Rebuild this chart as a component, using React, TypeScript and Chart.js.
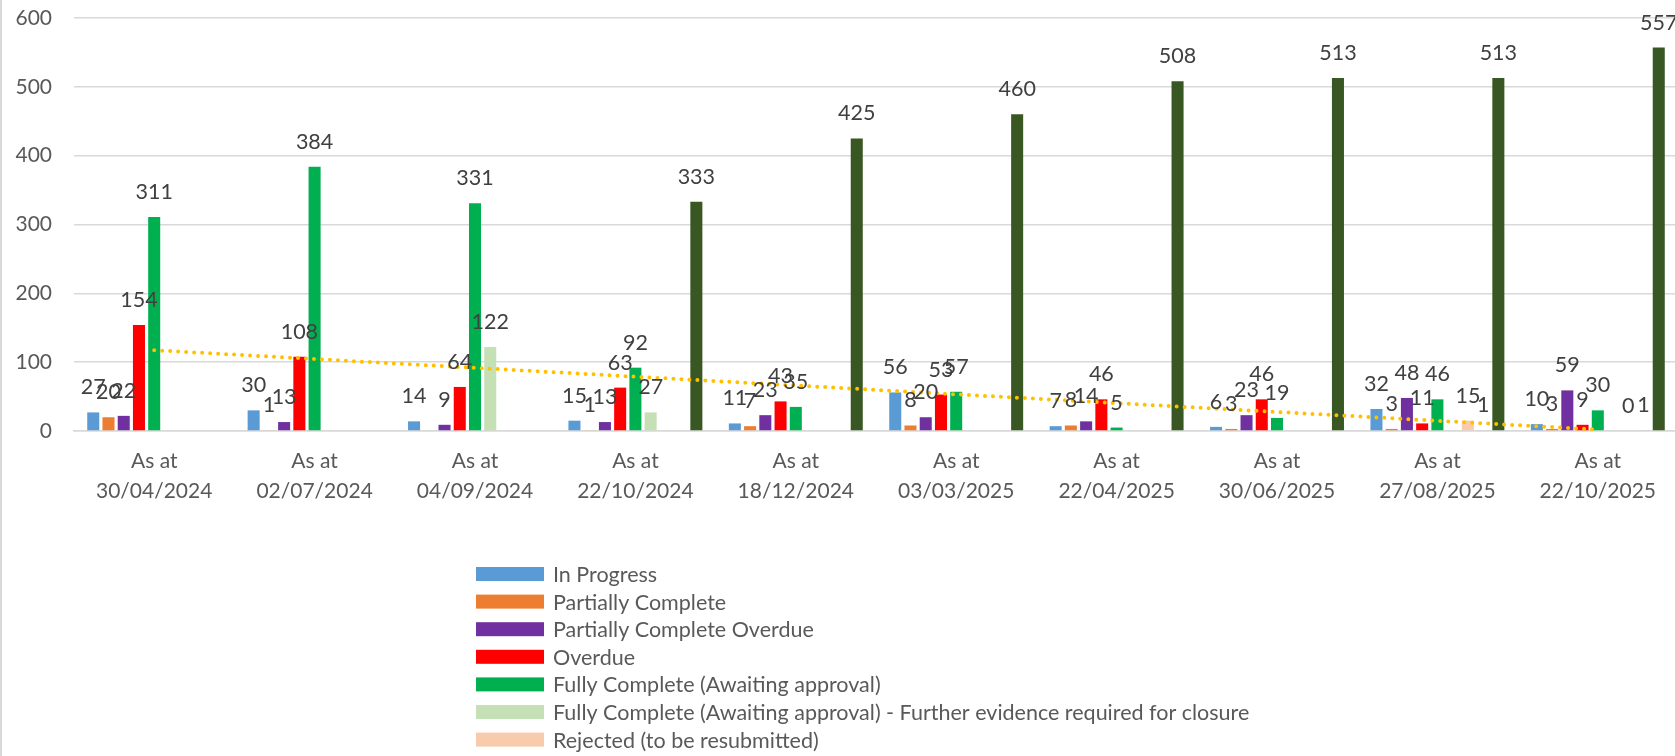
import React, { useEffect, useRef } from 'react';
import { Chart, registerables } from 'chart.js';

Chart.register(...registerables);

const categories: string[][] = [
  ['As at', '30/04/2024'],
  ['As at', '02/07/2024'],
  ['As at', '04/09/2024'],
  ['As at', '22/10/2024'],
  ['As at', '18/12/2024'],
  ['As at', '03/03/2025'],
  ['As at', '22/04/2025'],
  ['As at', '30/06/2025'],
  ['As at', '27/08/2025'],
  ['As at', '22/10/2025'],
];

const inProgress = [27, 30, 14, 15, 11, 56, 7, 6, 32, 10];
const partiallyComplete = [20, 1, null, 1, 7, 8, 8, 3, 3, 3];
const partiallyCompleteOverdue = [22, 13, 9, 13, 23, 20, 14, 23, 48, 59];
const overdue = [154, 108, 64, 63, 43, 53, 46, 46, 11, 9];
const fullyComplete = [311, 384, 331, 92, 35, 57, 5, 19, 46, 30];
const furtherEvidence = [null, null, 122, 27, null, null, null, null, null, null];
const rejected = [null, null, null, null, null, null, null, null, 15, 0];
const withdrawn = [null, null, null, null, null, null, null, null, 1, 1];
const closed = [null, null, null, 333, 425, 460, 508, 513, 513, 557];

const yTicks = [0, 100, 200, 300, 400, 500, 600];

const seriesNames = [
  'In Progress',
  'Partially Complete',
  'Partially Complete Overdue',
  'Overdue',
  'Fully Complete (Awaiting approval)',
  'Fully Complete (Awaiting approval) - Further evidence required for closure',
  'Rejected (to be resubmitted)',
  'Withdrawn',
  'Closed',
];
const seriesColors = ['#5B9BD5', '#ED7D31', '#7030A0', '#FF0000', '#00B050', '#C5E0B4', '#F8CBAD', '#A5A5A5', '#385723'];
const seriesData = [
  inProgress,
  partiallyComplete,
  partiallyCompleteOverdue,
  overdue,
  fullyComplete,
  furtherEvidence,
  rejected,
  withdrawn,
  closed,
];

// Linear trendline (least squares) on the Overdue series, like Excel's trendline
function linearTrend(values: number[]): number[] {
  const n = values.length;
  const xs = values.map((_, i) => i + 1);
  const mx = xs.reduce((a, b) => a + b, 0) / n;
  const my = values.reduce((a, b) => a + b, 0) / n;
  let sxy = 0;
  let sxx = 0;
  for (let i = 0; i < n; i++) {
    sxy += (xs[i] - mx) * (values[i] - my);
    sxx += (xs[i] - mx) * (xs[i] - mx);
  }
  const slope = sxy / sxx;
  return xs.map((x) => my + slope * (x - mx));
}

const FONT = 'Lato';
const TEXT = '#595959';

const dataLabelPlugin = {
  id: 'barLabels',
  afterDatasetsDraw(chart: any) {
    const ctx = chart.ctx;
    ctx.save();
    ctx.font = `21.5px ${FONT}`;
    ctx.fillStyle = '#404040';
    ctx.textAlign = 'center';
    ctx.textBaseline = 'alphabetic';
    chart.data.datasets.forEach((ds: any, di: number) => {
      if (ds.type === 'line') return;
      const meta = chart.getDatasetMeta(di);
      meta.data.forEach((el: any, i: number) => {
        const v = ds.data[i];
        if (v === null || v === undefined) return;
        ctx.fillText(String(v), el.x, el.y - 18);
      });
    });
    ctx.restore();
  },
};

const legendPlugin = {
  id: 'verticalLegend',
  afterDraw(chart: any) {
    const ctx = chart.ctx;
    const items = chart.data.datasets.filter((d: any) => d.type !== 'line');
    const boxLeft = 474;
    const textLeft = 551;
    const firstRow = chart.chartArea.bottom + 143;
    const rowGap = 27.6;
    ctx.save();
    ctx.font = `21.5px ${FONT}`;
    ctx.textAlign = 'left';
    ctx.textBaseline = 'middle';
    items.forEach((d: any, i: number) => {
      const y = firstRow + i * rowGap;
      ctx.fillStyle = d.backgroundColor;
      ctx.fillRect(boxLeft, y - 7, 68, 14);
      ctx.fillStyle = TEXT;
      ctx.fillText(d.label, textLeft, y + 1);
    });
    ctx.restore();
  },
};

export default function App() {
  const canvasRef = useRef<HTMLCanvasElement | null>(null);

  useEffect(() => {
    if (!canvasRef.current) return;
    const barSets = seriesData.map((data, i) => ({
      type: 'bar' as const,
      label: seriesNames[i],
      data,
      backgroundColor: seriesColors[i],
      borderWidth: 0,
      barPercentage: 0.79,
      categoryPercentage: 0.855,
      order: 1,
    }));
    const trend = {
      type: 'line' as const,
      label: 'Linear (Overdue)',
      data: linearTrend(overdue),
      borderColor: '#FFC000',
      backgroundColor: '#FFC000',
      borderWidth: 4,
      borderDash: [0, 8],
      borderCapStyle: 'round' as const,
      pointRadius: 0,
      pointHoverRadius: 0,
      fill: false,
      tension: 0,
      order: 0,
    };
    const chart = new Chart(canvasRef.current, {
      type: 'bar',
      data: { labels: categories, datasets: [...barSets, trend] as any },
      options: {
        responsive: false,
        animation: false,
        layout: { padding: { top: 18, right: 24, bottom: 309, left: 0 } },
        plugins: { legend: { display: false }, tooltip: { enabled: false } },
        scales: {
          x: {
            grid: { display: false, drawTicks: false },
            border: { display: true, color: '#d9d9d9', width: 1.5 },
            ticks: {
              color: TEXT,
              font: { family: FONT, size: 21, lineHeight: 1.4 },
              padding: 16,
              maxRotation: 0,
              autoSkip: false,
            },
            afterFit: (s: any) => {
              s.height = 90;
            },
          },
          y: {
            min: yTicks[0],
            max: yTicks[yTicks.length - 1],
            afterBuildTicks: (s: any) => {
              s.ticks = yTicks.map((v) => ({ value: v }));
            },
            ticks: { color: TEXT, font: { family: FONT, size: 21 }, padding: 0 },
            grid: {
              color: '#d9d9d9',
              lineWidth: 1.5,
              drawTicks: true,
              tickLength: 22,
              tickColor: 'rgba(0,0,0,0)',
            },
            border: { display: false },
            afterFit: (s: any) => {
              s.width = 72;
            },
          },
        },
      },
      plugins: [dataLabelPlugin, legendPlugin],
    });
    return () => chart.destroy();
  }, []);

  return (
    <div
      style={{
        position: 'absolute',
        left: 0,
        top: 0,
        borderLeft: '2px solid #d9d9d9',
        background: '#fff',
      }}
    >
      <canvas ref={canvasRef} width={1700} height={830} style={{ display: 'block' }} />
    </div>
  );
}
